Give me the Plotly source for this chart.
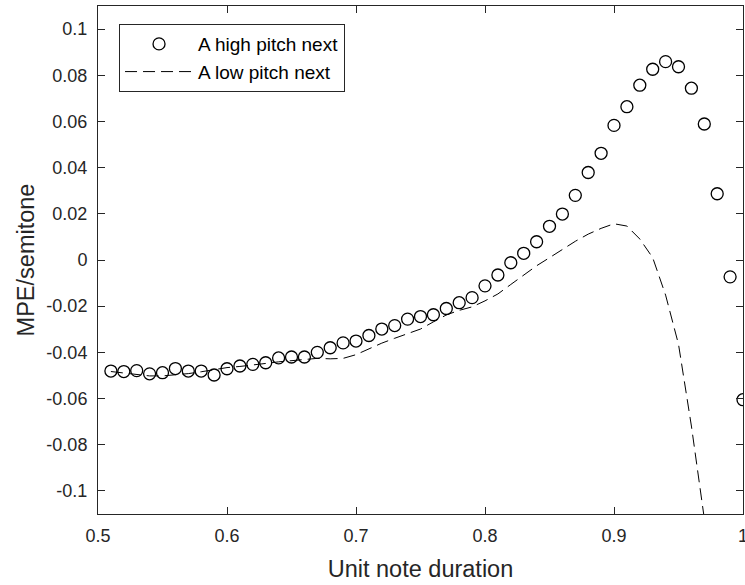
import plotly.graph_objects as go

# Data
duration_high = [0.51, 0.52, 0.53, 0.54, 0.55, 0.56, 0.57, 0.58, 0.59, 0.60,
                 0.61, 0.62, 0.63, 0.64, 0.65, 0.66, 0.67, 0.68, 0.69, 0.70,
                 0.71, 0.72, 0.73, 0.74, 0.75, 0.76, 0.77, 0.78, 0.79, 0.80,
                 0.81, 0.82, 0.83, 0.84, 0.85, 0.86, 0.87, 0.88, 0.89, 0.90,
                 0.91, 0.92, 0.93, 0.94, 0.95, 0.96, 0.97, 0.98, 0.99, 1.00]
mpe_high = [-0.0481, -0.0483, -0.0479, -0.0493, -0.0488, -0.0470, -0.0481, -0.0481, -0.0498, -0.0471,
            -0.0459, -0.0452, -0.0445, -0.0424, -0.0420, -0.0420, -0.0400, -0.0380, -0.0359, -0.0351,
            -0.0327, -0.0299, -0.0284, -0.0256, -0.0245, -0.0237, -0.0210, -0.0185, -0.0163, -0.0112,
            -0.0065, -0.0012, 0.0029, 0.0079, 0.0146, 0.0199, 0.0280, 0.0379, 0.0462, 0.0583,
            0.0664, 0.0757, 0.0826, 0.0859, 0.0837, 0.0744, 0.0589, 0.0287, -0.0073, -0.0605]

duration_low = [0.51, 0.52, 0.53, 0.54, 0.55, 0.56, 0.57, 0.58, 0.59, 0.60,
                0.61, 0.62, 0.63, 0.64, 0.65, 0.66, 0.67, 0.68, 0.69, 0.70,
                0.71, 0.72, 0.73, 0.74, 0.75, 0.76, 0.77, 0.78, 0.79, 0.80,
                0.81, 0.82, 0.83, 0.84, 0.85, 0.86, 0.87, 0.88, 0.89, 0.90,
                0.91, 0.92, 0.93, 0.94, 0.95, 0.96, 0.97, 0.98]
mpe_low = [-0.0483, -0.0490, -0.0497, -0.0502, -0.0502, -0.0498, -0.0492, -0.0484, -0.0474, -0.0466,
           -0.0461, -0.0456, -0.0448, -0.0441, -0.0436, -0.0431, -0.0426, -0.0428, -0.0426, -0.0410,
           -0.0385, -0.0360, -0.0339, -0.0319, -0.0299, -0.0268, -0.0238, -0.0218, -0.0203, -0.0177,
           -0.0147, -0.0106, -0.0066, -0.0025, 0.0010, 0.0046, 0.0081, 0.0112, 0.0137, 0.0157,
           0.0147, 0.0091, 0.0010, -0.0152, -0.0365, -0.0719, -0.1105, -0.1520]

x_tickvals = [0.5, 0.6, 0.7, 0.8, 0.9, 1.0]
x_ticktext = ["0.5", "0.6", "0.7", "0.8", "0.9", "1"]
y_tickvals = [-0.1, -0.08, -0.06, -0.04, -0.02, 0, 0.02, 0.04, 0.06, 0.08, 0.1]
y_ticktext = ["-0.1", "-0.08", "-0.06", "-0.04", "-0.02", "0", "0.02", "0.04", "0.06", "0.08", "0.1"]

FONT = "Liberation Sans, Arial, Helvetica, sans-serif"
AX = "#262626"

fig = go.Figure()
fig.add_trace(go.Scatter(
    x=duration_high, y=mpe_high, mode="markers", name="A high pitch next",
    marker=dict(symbol="circle-open", size=12, color="black", line=dict(width=1.3, color="black")),
))
fig.add_trace(go.Scatter(
    x=duration_low, y=mpe_low, mode="lines", name="A low pitch next",
    line=dict(color="black", width=1, dash="12px,6px"),
))

axis_common = dict(
    showgrid=False, zeroline=False, showline=True, mirror="ticks",
    linecolor=AX, linewidth=1, ticks="inside", ticklen=7, tickcolor=AX, tickwidth=1,
    tickfont=dict(family=FONT, size=18, color=AX),
    ticklabeloverflow="allow", automargin=False,
)

fig.update_layout(
    width=745, height=585,
    margin=dict(l=98, r=2, t=6, b=71),
    paper_bgcolor="white", plot_bgcolor="white",
    xaxis=dict(range=[0.5, 1.0], tickvals=x_tickvals, ticktext=x_ticktext,
               ticklabelstandoff=5,
               title=dict(text="Unit note duration", font=dict(family=FONT, size=23.5, color=AX), standoff=15),
               **axis_common),
    yaxis=dict(range=[-0.11, 0.11], tickvals=y_tickvals, ticktext=y_ticktext,
               ticklabelstandoff=6,
               title=dict(text="MPE/semitone", font=dict(family=FONT, size=23.5, color=AX), standoff=5),
               **axis_common),
    legend=dict(x=0.0326, y=0.9645, xanchor="left", yanchor="top",
                bgcolor="white", bordercolor=AX, borderwidth=1, itemwidth=68,
                font=dict(family=FONT, size=19, color="black")),
    showlegend=True,
)

fig.write_html("out.html", config={"displayModeBar": False},
               post_script="document.body.style.margin='0';document.body.style.padding='0';")
